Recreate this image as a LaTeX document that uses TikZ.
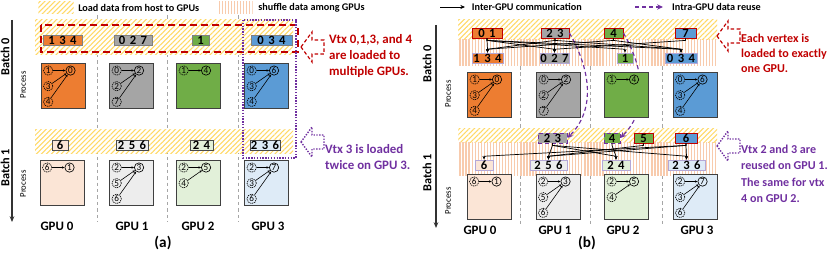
\documentclass[tikz,border=0pt]{standalone}
\usepackage{fontspec}
\setmainfont{Carlito}
\usetikzlibrary{positioning, arrows.meta, patterns.meta}

\definecolor{gorange}{HTML}{ED7D31}
\definecolor{ggray}{HTML}{A5A5A5}
\definecolor{ggreen}{HTML}{70AD47}
\definecolor{gblue}{HTML}{5B9BD5}
\definecolor{lorange}{HTML}{FBE5D6}
\definecolor{lgray}{HTML}{EDEDED}
\definecolor{lgreen}{HTML}{E2F0D9}
\definecolor{lblue}{HTML}{DEEBF7}
\definecolor{ared}{HTML}{C00000}
\definecolor{apurple}{HTML}{7030A0}
\definecolor{lavender}{HTML}{B4A7D6}
\definecolor{hatchy}{HTML}{FFD966}
\definecolor{stripeo}{HTML}{F8CBAD}

\tikzset{
  loadband/.style={preaction={fill=white}, pattern={Lines[angle=45,distance=3pt,line width=0.9pt]}, pattern color=hatchy},
  shuffleband/.style={preaction={fill=white}, pattern={Lines[angle=90,distance=2.6pt,line width=1.1pt]}, pattern color=stripeo},
  legbox/.style={minimum width=1.05cm, minimum height=0.36cm, inner sep=0pt},
  legtext/.style={inner sep=0pt, font=\fontsize{8.7}{10}\selectfont\bfseries},
  procbox/.style={draw=black!75, line width=0.8pt, minimum width=1.32cm, minimum height=1.34cm, inner sep=0pt},
  dbox/.style={line width=0.7pt, minimum height=0.3cm, inner sep=0pt, font=\fontsize{10.8}{10.8}\selectfont\bfseries},
  vtx/.style={circle, draw, line width=0.55pt, inner sep=0pt, minimum size=0.28cm, font=\fontsize{7.8}{7.8}\selectfont},
  srcvtx/.style={vtx, dash pattern=on 1pt off 0.7pt},
  garrow/.style={-{Stealth[length=2.2pt,width=2pt]}, line width=0.5pt},
  gpusep/.style={draw=black!35, line width=0.8pt, dash pattern=on 3pt off 2.5pt},
  batchaxis/.style={-{Stealth[length=5pt,width=4pt]}, line width=1pt, black!80},
  batchlabel/.style={rotate=90, font=\fontsize{10.5}{10.5}\selectfont\bfseries},
  proclabel/.style={rotate=90, font=\fontsize{7.5}{7.5}\selectfont},
  gpulabel/.style={inner sep=0pt, font=\fontsize{11}{11}\selectfont\bfseries},
  xfer/.style={-{Stealth[length=3pt,width=2.5pt]}, line width=0.6pt,
    to path={-- ++(0,2) -- ([yshift=0.1cm]\tikztotarget.north) -- (\tikztotarget.north)}},
  reuse/.style={apurple, line width=1pt, dash pattern=on 3.5pt off 2.5pt, -{Stealth[length=5pt,width=4.5pt]}},
  redcall/.style={ared, line width=1pt, dash pattern=on 3pt off 2pt},
  purplecall/.style={apurple, line width=1.2pt, dash pattern=on 1.2pt off 1.2pt},
  note/.style={anchor=west, align=left, inner sep=0pt}
}

\newcommand{\dsep}{\hspace{0.35em}}
\newcommand{\gpubox}[5]{%
  \node[procbox, fill=#3] (#1) at (#2) {};
  \node[vtx] (#1t) at ([xshift=0.9cm, yshift=-0.22cm]#1.north west) {#4};
  \foreach \s [count=\k from 0] in {#5} {
    \node[srcvtx] (#1s\k) at ([xshift=0.23cm, yshift=-0.22cm-0.47cm*\k]#1.north west) {\s};
    \draw[garrow] (#1s\k) -- (#1t);
  }
}
\newcommand{\callout}[2]{%
  \draw[#1] (#2) -- ++(11,-15) -- ++(0,8) -- ++(12,0) -- ++(0,14) -- ++(-12,0) -- ++(0,8) -- cycle;
}

\begin{document}
\begin{tikzpicture}[x=0.03cm, y=-0.03cm, every node/.style={font=\bfseries}]
\useasboundingbox (0,0) rectangle (830,255);

% (a)
\node[legbox, loadband] (lgload) at (56,8) {};
\node[legtext, right=0.12cm of lgload] (lgloadtxt) {Load data from host to GPUs};
\node[legbox, shuffleband] (lgshuf) at (235,8) {};
\node[legtext, right=0.15cm of lgshuf] (lgshuftxt) {shuffle data among GPUs};

\foreach \x in {97,167,238} \draw[gpusep] (\x,15) -- (\x,222);
\path[loadband] (35,20) rectangle (293,55);
\path[loadband] (35,130) rectangle (293,153);

\draw[batchaxis] (12,20) -- (12,222);
\node[batchlabel] (abatch0) at (5,57) {Batch 0};
\node[batchlabel] (abatch1) at (5,168) {Batch 1};
\node[proclabel] (aproc0) at (23,85) {Process};
\node[proclabel] (aproc1) at (23,184) {Process};

\node[dbox, fill=gorange, draw=black!50, minimum width=1.17cm] (a0d0) at (62.5,40) {1\dsep3\dsep4};
\node[dbox, fill=ggray, draw=black!50, minimum width=1.14cm] (a0d1) at (133,40) {0\dsep2\dsep7};
\node[dbox, fill=ggreen, draw=black!50, minimum width=0.51cm] (a0d2) at (200.5,40) {1};
\node[dbox, fill=gblue, draw=black!50, minimum width=1.23cm] (a0d3) at (271.5,40) {0\dsep3\dsep4};
\node[dbox, fill=lorange, draw=black!70, minimum width=0.48cm] (a1d0) at (60,145) {6};
\node[dbox, fill=lgray, draw=black!70, minimum width=0.96cm] (a1d1) at (132,145) {2\dsep5\dsep6};
\node[dbox, fill=lgreen, draw=black!70, minimum width=0.69cm] (a1d2) at (201.5,145) {2\dsep4};
\node[dbox, fill=lblue, draw=black!70, minimum width=0.9cm] (a1d3) at (265,145) {2\dsep3\dsep6};

\gpubox{a0p0}{63,86}{gorange}{0}{1,3,4}
\gpubox{a0p1}{131.5,86}{ggray}{2}{0,2,7}
\gpubox{a0p2}{198.5,86}{ggreen}{4}{1}
\gpubox{a0p3}{266.5,86}{gblue}{6}{0,3,4}
\gpubox{a1p0}{62,183}{lorange}{1}{6}
\gpubox{a1p1}{131.5,183}{lgray}{3}{2,5,6}
\gpubox{a1p2}{198.5,183}{lgreen}{5}{2,4}
\gpubox{a1p3}{266.5,183}{lblue}{7}{2,3,6}

\foreach \x [count=\g from 0] in {57,132,198,268}
  \node[gpulabel] (agpu\g) at (\x,226) {GPU \g};
\node[font=\fontsize{13}{13}\selectfont\bfseries] (acap) at (163,243) {(a)};

\draw[ared, line width=1.6pt, dash pattern=on 6pt off 3.5pt] (41,25) rectangle (298,52);
\draw[purplecall] (243,20) rectangle (296,158);
\callout{redcall}{301,47}
\callout{purplecall}{301,142}
\node[note, text=ared, font=\fontsize{11}{14}\selectfont\bfseries] (anote0) at (329,56)
  {Vtx 0,1,3, and 4\\are loaded to\\multiple GPUs.};
\node[note, text=apurple, font=\fontsize{11}{13.5}\selectfont\bfseries] (anote1) at (325,157)
  {Vtx 3 is loaded\\twice on GPU 3.};

% (b)
\coordinate (lgc0) at (440,7);
\coordinate (lgc1) at (465,7);
\draw[-{Stealth[length=4pt,width=3.5pt]}, line width=0.7pt] (lgc0) -- (lgc1);
\node[legtext, right=0.2cm of lgc1] (lgctxt) {Inter-GPU communication};
\coordinate (lgr0) at (635,7);
\coordinate (lgr1) at (663,7);
\draw[reuse] (lgr0) -- (lgr1);
\node[legtext, right=0.27cm of lgr1] (lgrtxt) {Intra-GPU data reuse};

\foreach \x in {520,590,662} \draw[gpusep] (\x,66) -- (\x,226);
\path[loadband] (458,20) rectangle (717,40);
\path[shuffleband] (458,40) rectangle (717,66);
\path[loadband] (458,129) rectangle (717,143);
\path[shuffleband] (458,143) rectangle (717,175);

\draw[batchaxis] (436,25) -- (436,228);
\node[batchlabel] (bbatch0) at (427,64) {Batch 0};
\node[batchlabel] (bbatch1) at (427,173) {Batch 1};
\node[proclabel] (bproc0) at (448,94) {Process};
\node[proclabel] (bproc1) at (448,201) {Process};

\node[dbox, fill=gorange, draw=ared, minimum width=0.9cm] (b0l0) at (487,33) {0\dsep1};
\node[dbox, fill=ggray, draw=ared, minimum width=0.84cm] (b0l1) at (555,33) {2\dsep3};
\node[dbox, fill=ggreen, draw=ared, minimum width=0.57cm] (b0l2) at (613.5,33) {4};
\node[dbox, fill=gblue, draw=ared, minimum width=0.63cm] (b0l3) at (685.5,33) {7};
\node[dbox, fill=gorange, draw=lavender, minimum width=0.93cm] (b0r0) at (487.5,58) {1\dsep3\dsep4};
\node[dbox, fill=ggray, draw=lavender, minimum width=0.87cm] (b0r1) at (554.5,58) {0\dsep2\dsep7};
\node[dbox, fill=ggreen, draw=lavender, minimum width=0.48cm] (b0r2) at (625,58) {1};
\node[dbox, fill=gblue, draw=lavender, minimum width=0.96cm] (b0r3) at (681,58) {0\dsep3\dsep4};

\node[dbox, fill=ggray, draw=apurple, dashed, minimum width=0.87cm] (b1l0) at (552.5,138) {2\dsep3};
\node[dbox, fill=ggreen, draw=apurple, dashed, minimum width=0.48cm] (b1l1) at (612,138) {4};
\node[dbox, fill=ggreen, draw=ared, minimum width=0.57cm] (b1l2) at (643.5,138) {5};
\node[dbox, fill=gblue, draw=ared, minimum width=0.66cm] (b1l3) at (686,138) {6};
\node[dbox, fill=lorange, draw=lavender, minimum width=0.54cm] (b1r0) at (484,165) {6};
\node[dbox, fill=lgray, draw=lavender, minimum width=1.11cm] (b1r1) at (548.5,165) {2\dsep5\dsep6};
\node[dbox, fill=lgreen, draw=lavender, minimum width=0.84cm] (b1r2) at (616,165) {2\dsep4};
\node[dbox, fill=lblue, draw=lavender, minimum width=1.11cm] (b1r3) at (686.5,165) {2\dsep3\dsep6};

\draw[reuse] (b0l1.east) to[out=-60, in=45] (b1l0.east);
\draw[reuse] (b0l2.east) to[out=-60, in=45] (b1l1.east);

\gpubox{b0p0}{489.5,95}{gorange}{0}{1,3,4}
\gpubox{b0p1}{558.5,95}{ggray}{2}{0,2,7}
\gpubox{b0p2}{626.5,95}{ggreen}{4}{1}
\gpubox{b0p3}{695,95}{gblue}{6}{0,3,4}
\gpubox{b1p0}{489,197}{lorange}{1}{6}
\gpubox{b1p1}{558,197}{lgray}{3}{2,5,6}
\gpubox{b1p2}{626.5,197}{lgreen}{5}{2,4}
\gpubox{b1p3}{695,197}{lblue}{7}{2,3,6}

\foreach \s/\t in {0/0,0/1,0/2,0/3,1/0,1/1,1/3,2/0,2/3,3/1}
  \draw[xfer] (b0l\s.south) to (b0r\t);
\foreach \s/\t in {0/1,0/2,0/3,1/2,2/1,3/0,3/1,3/3}
  \draw[xfer] (b1l\s.south) to (b1r\t);

\foreach \x [count=\g from 0] in {480,555,623,697}
  \node[gpulabel] (bgpu\g) at (\x,230) {GPU \g};
\node[font=\fontsize{13}{13}\selectfont\bfseries] (bcap) at (587,243) {(b)};

\callout{redcall}{717,36}
\callout{purplecall}{717,146}
\node[note, text=ared, font=\fontsize{10.3}{13}\selectfont\bfseries] (bnote0) at (741,53.5)
  {Each vertex is\\loaded to exactly\\one GPU.};
\node[note, text=apurple, font=\fontsize{10.3}{14}\selectfont\bfseries] (bnote1) at (741,174)
  {Vtx 2 and 3 are\\reused on GPU 1.\\The same for vtx\\4 on GPU 2.};
\end{tikzpicture}
\end{document}
